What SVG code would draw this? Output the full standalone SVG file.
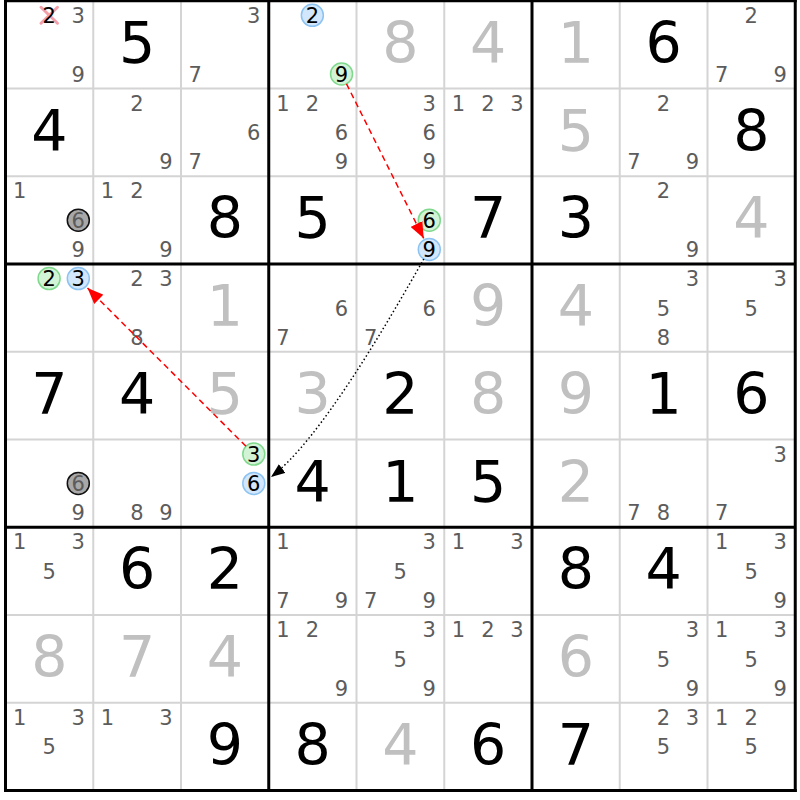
<svg xmlns="http://www.w3.org/2000/svg" width="800" height="800" viewBox="0 0 800 800">
<style>
text{font-family:'DejaVu Sans',sans-serif;text-anchor:middle}
.v{font-size:57px;fill:#000}
.vs{font-size:57px;fill:#c0c0c0}
.c{font-size:21px;fill:#5c5c5c}
.k{font-size:21px;fill:#000}
.cg{fill:#d3f3d6;stroke:#7fd98d;stroke-width:1.5}
.cb{fill:#d2e7fb;stroke:#8cc3f2;stroke-width:1.5}
.cx{fill:#a8a8a8;stroke:#111;stroke-width:1.5}
.x{stroke:#f4a0aa;stroke-width:3;stroke-linecap:round}
.thin{stroke:#d4d4d4;stroke-width:2}
.thick{stroke:#000;stroke-width:3}
.strong{fill:none;stroke:#f00;stroke-width:1.5;stroke-dasharray:6 4}
.weak{fill:none;stroke:#000;stroke-width:1.5;stroke-dasharray:1.5 2.5}
</style>
<defs>
<marker id="ar" markerUnits="userSpaceOnUse" markerWidth="17" markerHeight="13" refX="16" refY="6.5" orient="auto"><path d="M0,0 L16,6.5 L0,13 z" fill="#f00"/></marker>
<marker id="ak" markerUnits="userSpaceOnUse" markerWidth="15" markerHeight="11" refX="14" refY="5.5" orient="auto"><path d="M0,0 L14,5.5 L0,11 z" fill="#000"/></marker>
</defs>
<rect width="800" height="800" fill="#fff"/>
<g id="grid-thin">
<line class="thin" x1="93.25" y1="0" x2="93.25" y2="791"/>
<line class="thin" x1="181" y1="0" x2="181" y2="791"/>
<line class="thin" x1="356.5" y1="0" x2="356.5" y2="791"/>
<line class="thin" x1="444.25" y1="0" x2="444.25" y2="791"/>
<line class="thin" x1="619.75" y1="0" x2="619.75" y2="791"/>
<line class="thin" x1="707.5" y1="0" x2="707.5" y2="791"/>
<line class="thin" x1="5" y1="88.5" x2="796" y2="88.5"/>
<line class="thin" x1="5" y1="176.25" x2="796" y2="176.25"/>
<line class="thin" x1="5" y1="351.75" x2="796" y2="351.75"/>
<line class="thin" x1="5" y1="439.5" x2="796" y2="439.5"/>
<line class="thin" x1="5" y1="615" x2="796" y2="615"/>
<line class="thin" x1="5" y1="702.75" x2="796" y2="702.75"/>
</g>

<g id="r0c0" transform="translate(5.5,0.75)"><line class="x" x1="35.5" y1="6.5" x2="52" y2="22.5"/><line class="x" x1="35.5" y1="22.5" x2="52" y2="6.5"/><text class="k" x="43.6" y="22.2">2</text><text class="c" x="72.8" y="22.2">3</text><text class="c" x="72.8" y="80.8">9</text></g>
<g id="r0c1" transform="translate(93.25,0.75)"><text class="v" x="43.9" y="62">5</text></g>
<g id="r0c2" transform="translate(181,0.75)"><text class="c" x="72.8" y="22.2">3</text><text class="c" x="14.2" y="80.8">7</text></g>
<g id="r0c3" transform="translate(268.75,0.75)"><circle class="cb" cx="43.6" cy="14.6" r="11"/><text class="k" x="43.6" y="22.2">2</text><circle class="cg" cx="72.8" cy="73.2" r="11"/><text class="k" x="72.8" y="80.8">9</text></g>
<g id="r0c4" transform="translate(356.5,0.75)"><text class="vs" x="43.9" y="62">8</text></g>
<g id="r0c5" transform="translate(444.25,0.75)"><text class="vs" x="43.9" y="62">4</text></g>
<g id="r0c6" transform="translate(532,0.75)"><text class="vs" x="43.9" y="62">1</text></g>
<g id="r0c7" transform="translate(619.75,0.75)"><text class="v" x="43.9" y="62">6</text></g>
<g id="r0c8" transform="translate(707.5,0.75)"><text class="c" x="43.6" y="22.2">2</text><text class="c" x="14.2" y="80.8">7</text><text class="c" x="72.8" y="80.8">9</text></g>

<g id="r1c0" transform="translate(5.5,88.5)"><text class="v" x="43.9" y="62">4</text></g>
<g id="r1c1" transform="translate(93.25,88.5)"><text class="c" x="43.6" y="22.2">2</text><text class="c" x="72.8" y="80.8">9</text></g>
<g id="r1c2" transform="translate(181,88.5)"><text class="c" x="72.8" y="51.5">6</text><text class="c" x="14.2" y="80.8">7</text></g>
<g id="r1c3" transform="translate(268.75,88.5)"><text class="c" x="14.2" y="22.2">1</text><text class="c" x="43.6" y="22.2">2</text><text class="c" x="72.8" y="51.5">6</text><text class="c" x="72.8" y="80.8">9</text></g>
<g id="r1c4" transform="translate(356.5,88.5)"><text class="c" x="72.8" y="22.2">3</text><text class="c" x="72.8" y="51.5">6</text><text class="c" x="72.8" y="80.8">9</text></g>
<g id="r1c5" transform="translate(444.25,88.5)"><text class="c" x="14.2" y="22.2">1</text><text class="c" x="43.6" y="22.2">2</text><text class="c" x="72.8" y="22.2">3</text></g>
<g id="r1c6" transform="translate(532,88.5)"><text class="vs" x="43.9" y="62">5</text></g>
<g id="r1c7" transform="translate(619.75,88.5)"><text class="c" x="43.6" y="22.2">2</text><text class="c" x="14.2" y="80.8">7</text><text class="c" x="72.8" y="80.8">9</text></g>
<g id="r1c8" transform="translate(707.5,88.5)"><text class="v" x="43.9" y="62">8</text></g>

<g id="r2c0" transform="translate(5.5,176.25)"><text class="c" x="14.2" y="22.2">1</text><circle class="cx" cx="72.8" cy="43.9" r="11"/><text class="c" x="72.8" y="51.5">6</text><text class="c" x="72.8" y="80.8">9</text></g>
<g id="r2c1" transform="translate(93.25,176.25)"><text class="c" x="14.2" y="22.2">1</text><text class="c" x="43.6" y="22.2">2</text><text class="c" x="72.8" y="80.8">9</text></g>
<g id="r2c2" transform="translate(181,176.25)"><text class="v" x="43.9" y="62">8</text></g>
<g id="r2c3" transform="translate(268.75,176.25)"><text class="v" x="43.9" y="62">5</text></g>
<g id="r2c4" transform="translate(356.5,176.25)"><circle class="cg" cx="72.8" cy="43.9" r="11"/><text class="k" x="72.8" y="51.5">6</text><circle class="cb" cx="72.8" cy="73.2" r="11"/><text class="k" x="72.8" y="80.8">9</text></g>
<g id="r2c5" transform="translate(444.25,176.25)"><text class="v" x="43.9" y="62">7</text></g>
<g id="r2c6" transform="translate(532,176.25)"><text class="v" x="43.9" y="62">3</text></g>
<g id="r2c7" transform="translate(619.75,176.25)"><text class="c" x="43.6" y="22.2">2</text><text class="c" x="72.8" y="80.8">9</text></g>
<g id="r2c8" transform="translate(707.5,176.25)"><text class="vs" x="43.9" y="62">4</text></g>

<g id="r3c0" transform="translate(5.5,264)"><circle class="cg" cx="43.6" cy="14.6" r="11"/><text class="k" x="43.6" y="22.2">2</text><circle class="cb" cx="72.8" cy="14.6" r="11"/><text class="k" x="72.8" y="22.2">3</text></g>
<g id="r3c1" transform="translate(93.25,264)"><text class="c" x="43.6" y="22.2">2</text><text class="c" x="72.8" y="22.2">3</text><text class="c" x="43.6" y="80.8">8</text></g>
<g id="r3c2" transform="translate(181,264)"><text class="vs" x="43.9" y="62">1</text></g>
<g id="r3c3" transform="translate(268.75,264)"><text class="c" x="72.8" y="51.5">6</text><text class="c" x="14.2" y="80.8">7</text></g>
<g id="r3c4" transform="translate(356.5,264)"><text class="c" x="72.8" y="51.5">6</text><text class="c" x="14.2" y="80.8">7</text></g>
<g id="r3c5" transform="translate(444.25,264)"><text class="vs" x="43.9" y="62">9</text></g>
<g id="r3c6" transform="translate(532,264)"><text class="vs" x="43.9" y="62">4</text></g>
<g id="r3c7" transform="translate(619.75,264)"><text class="c" x="72.8" y="22.2">3</text><text class="c" x="43.6" y="51.5">5</text><text class="c" x="43.6" y="80.8">8</text></g>
<g id="r3c8" transform="translate(707.5,264)"><text class="c" x="72.8" y="22.2">3</text><text class="c" x="43.6" y="51.5">5</text></g>

<g id="r4c0" transform="translate(5.5,351.75)"><text class="v" x="43.9" y="62">7</text></g>
<g id="r4c1" transform="translate(93.25,351.75)"><text class="v" x="43.9" y="62">4</text></g>
<g id="r4c2" transform="translate(181,351.75)"><text class="vs" x="43.9" y="62">5</text></g>
<g id="r4c3" transform="translate(268.75,351.75)"><text class="vs" x="43.9" y="62">3</text></g>
<g id="r4c4" transform="translate(356.5,351.75)"><text class="v" x="43.9" y="62">2</text></g>
<g id="r4c5" transform="translate(444.25,351.75)"><text class="vs" x="43.9" y="62">8</text></g>
<g id="r4c6" transform="translate(532,351.75)"><text class="vs" x="43.9" y="62">9</text></g>
<g id="r4c7" transform="translate(619.75,351.75)"><text class="v" x="43.9" y="62">1</text></g>
<g id="r4c8" transform="translate(707.5,351.75)"><text class="v" x="43.9" y="62">6</text></g>

<g id="r5c0" transform="translate(5.5,439.5)"><circle class="cx" cx="72.8" cy="43.9" r="11"/><text class="c" x="72.8" y="51.5">6</text><text class="c" x="72.8" y="80.8">9</text></g>
<g id="r5c1" transform="translate(93.25,439.5)"><text class="c" x="43.6" y="80.8">8</text><text class="c" x="72.8" y="80.8">9</text></g>
<g id="r5c2" transform="translate(181,439.5)"><circle class="cg" cx="72.8" cy="14.6" r="11"/><text class="k" x="72.8" y="22.2">3</text><circle class="cb" cx="72.8" cy="43.9" r="11"/><text class="k" x="72.8" y="51.5">6</text></g>
<g id="r5c3" transform="translate(268.75,439.5)"><text class="v" x="43.9" y="62">4</text></g>
<g id="r5c4" transform="translate(356.5,439.5)"><text class="v" x="43.9" y="62">1</text></g>
<g id="r5c5" transform="translate(444.25,439.5)"><text class="v" x="43.9" y="62">5</text></g>
<g id="r5c6" transform="translate(532,439.5)"><text class="vs" x="43.9" y="62">2</text></g>
<g id="r5c7" transform="translate(619.75,439.5)"><text class="c" x="14.2" y="80.8">7</text><text class="c" x="43.6" y="80.8">8</text></g>
<g id="r5c8" transform="translate(707.5,439.5)"><text class="c" x="72.8" y="22.2">3</text><text class="c" x="14.2" y="80.8">7</text></g>

<g id="r6c0" transform="translate(5.5,527.25)"><text class="c" x="14.2" y="22.2">1</text><text class="c" x="72.8" y="22.2">3</text><text class="c" x="43.6" y="51.5">5</text></g>
<g id="r6c1" transform="translate(93.25,527.25)"><text class="v" x="43.9" y="62">6</text></g>
<g id="r6c2" transform="translate(181,527.25)"><text class="v" x="43.9" y="62">2</text></g>
<g id="r6c3" transform="translate(268.75,527.25)"><text class="c" x="14.2" y="22.2">1</text><text class="c" x="14.2" y="80.8">7</text><text class="c" x="72.8" y="80.8">9</text></g>
<g id="r6c4" transform="translate(356.5,527.25)"><text class="c" x="72.8" y="22.2">3</text><text class="c" x="43.6" y="51.5">5</text><text class="c" x="14.2" y="80.8">7</text><text class="c" x="72.8" y="80.8">9</text></g>
<g id="r6c5" transform="translate(444.25,527.25)"><text class="c" x="14.2" y="22.2">1</text><text class="c" x="72.8" y="22.2">3</text></g>
<g id="r6c6" transform="translate(532,527.25)"><text class="v" x="43.9" y="62">8</text></g>
<g id="r6c7" transform="translate(619.75,527.25)"><text class="v" x="43.9" y="62">4</text></g>
<g id="r6c8" transform="translate(707.5,527.25)"><text class="c" x="14.2" y="22.2">1</text><text class="c" x="72.8" y="22.2">3</text><text class="c" x="43.6" y="51.5">5</text><text class="c" x="72.8" y="80.8">9</text></g>

<g id="r7c0" transform="translate(5.5,615)"><text class="vs" x="43.9" y="62">8</text></g>
<g id="r7c1" transform="translate(93.25,615)"><text class="vs" x="43.9" y="62">7</text></g>
<g id="r7c2" transform="translate(181,615)"><text class="vs" x="43.9" y="62">4</text></g>
<g id="r7c3" transform="translate(268.75,615)"><text class="c" x="14.2" y="22.2">1</text><text class="c" x="43.6" y="22.2">2</text><text class="c" x="72.8" y="80.8">9</text></g>
<g id="r7c4" transform="translate(356.5,615)"><text class="c" x="72.8" y="22.2">3</text><text class="c" x="43.6" y="51.5">5</text><text class="c" x="72.8" y="80.8">9</text></g>
<g id="r7c5" transform="translate(444.25,615)"><text class="c" x="14.2" y="22.2">1</text><text class="c" x="43.6" y="22.2">2</text><text class="c" x="72.8" y="22.2">3</text></g>
<g id="r7c6" transform="translate(532,615)"><text class="vs" x="43.9" y="62">6</text></g>
<g id="r7c7" transform="translate(619.75,615)"><text class="c" x="72.8" y="22.2">3</text><text class="c" x="43.6" y="51.5">5</text><text class="c" x="72.8" y="80.8">9</text></g>
<g id="r7c8" transform="translate(707.5,615)"><text class="c" x="14.2" y="22.2">1</text><text class="c" x="72.8" y="22.2">3</text><text class="c" x="43.6" y="51.5">5</text><text class="c" x="72.8" y="80.8">9</text></g>

<g id="r8c0" transform="translate(5.5,702.75)"><text class="c" x="14.2" y="22.2">1</text><text class="c" x="72.8" y="22.2">3</text><text class="c" x="43.6" y="51.5">5</text></g>
<g id="r8c1" transform="translate(93.25,702.75)"><text class="c" x="14.2" y="22.2">1</text><text class="c" x="72.8" y="22.2">3</text></g>
<g id="r8c2" transform="translate(181,702.75)"><text class="v" x="43.9" y="62">9</text></g>
<g id="r8c3" transform="translate(268.75,702.75)"><text class="v" x="43.9" y="62">8</text></g>
<g id="r8c4" transform="translate(356.5,702.75)"><text class="vs" x="43.9" y="62">4</text></g>
<g id="r8c5" transform="translate(444.25,702.75)"><text class="v" x="43.9" y="62">6</text></g>
<g id="r8c6" transform="translate(532,702.75)"><text class="v" x="43.9" y="62">7</text></g>
<g id="r8c7" transform="translate(619.75,702.75)"><text class="c" x="43.6" y="22.2">2</text><text class="c" x="72.8" y="22.2">3</text><text class="c" x="43.6" y="51.5">5</text></g>
<g id="r8c8" transform="translate(707.5,702.75)"><text class="c" x="14.2" y="22.2">1</text><text class="c" x="43.6" y="22.2">2</text><text class="c" x="43.6" y="51.5">5</text></g>

<g id="grid-thick">
<line class="thick" x1="5.5" y1="-1" x2="5.5" y2="792"/>
<line class="thick" x1="268.75" y1="0" x2="268.75" y2="791"/>
<line class="thick" x1="532" y1="0" x2="532" y2="791"/>
<line class="thick" x1="795.25" y1="-1" x2="795.25" y2="792"/>
<line class="thick" x1="4" y1="0.75" x2="796.75" y2="0.75"/>
<line class="thick" x1="5" y1="264" x2="796" y2="264"/>
<line class="thick" x1="5" y1="527.25" x2="796" y2="527.25"/>
<line class="thick" x1="4" y1="790.5" x2="796.75" y2="790.5"/>
</g>

<g id="connectors">
<line class="strong" x1="346.5" y1="83.8" x2="423.7" y2="238.3" marker-end="url(#ar)"/>
<line class="strong" x1="246" y1="446.3" x2="87.5" y2="288" marker-end="url(#ar)"/>
<path class="weak" d="M423.8,259 C388,322 320,440 271,477" marker-end="url(#ak)"/>
</g>
</svg>
